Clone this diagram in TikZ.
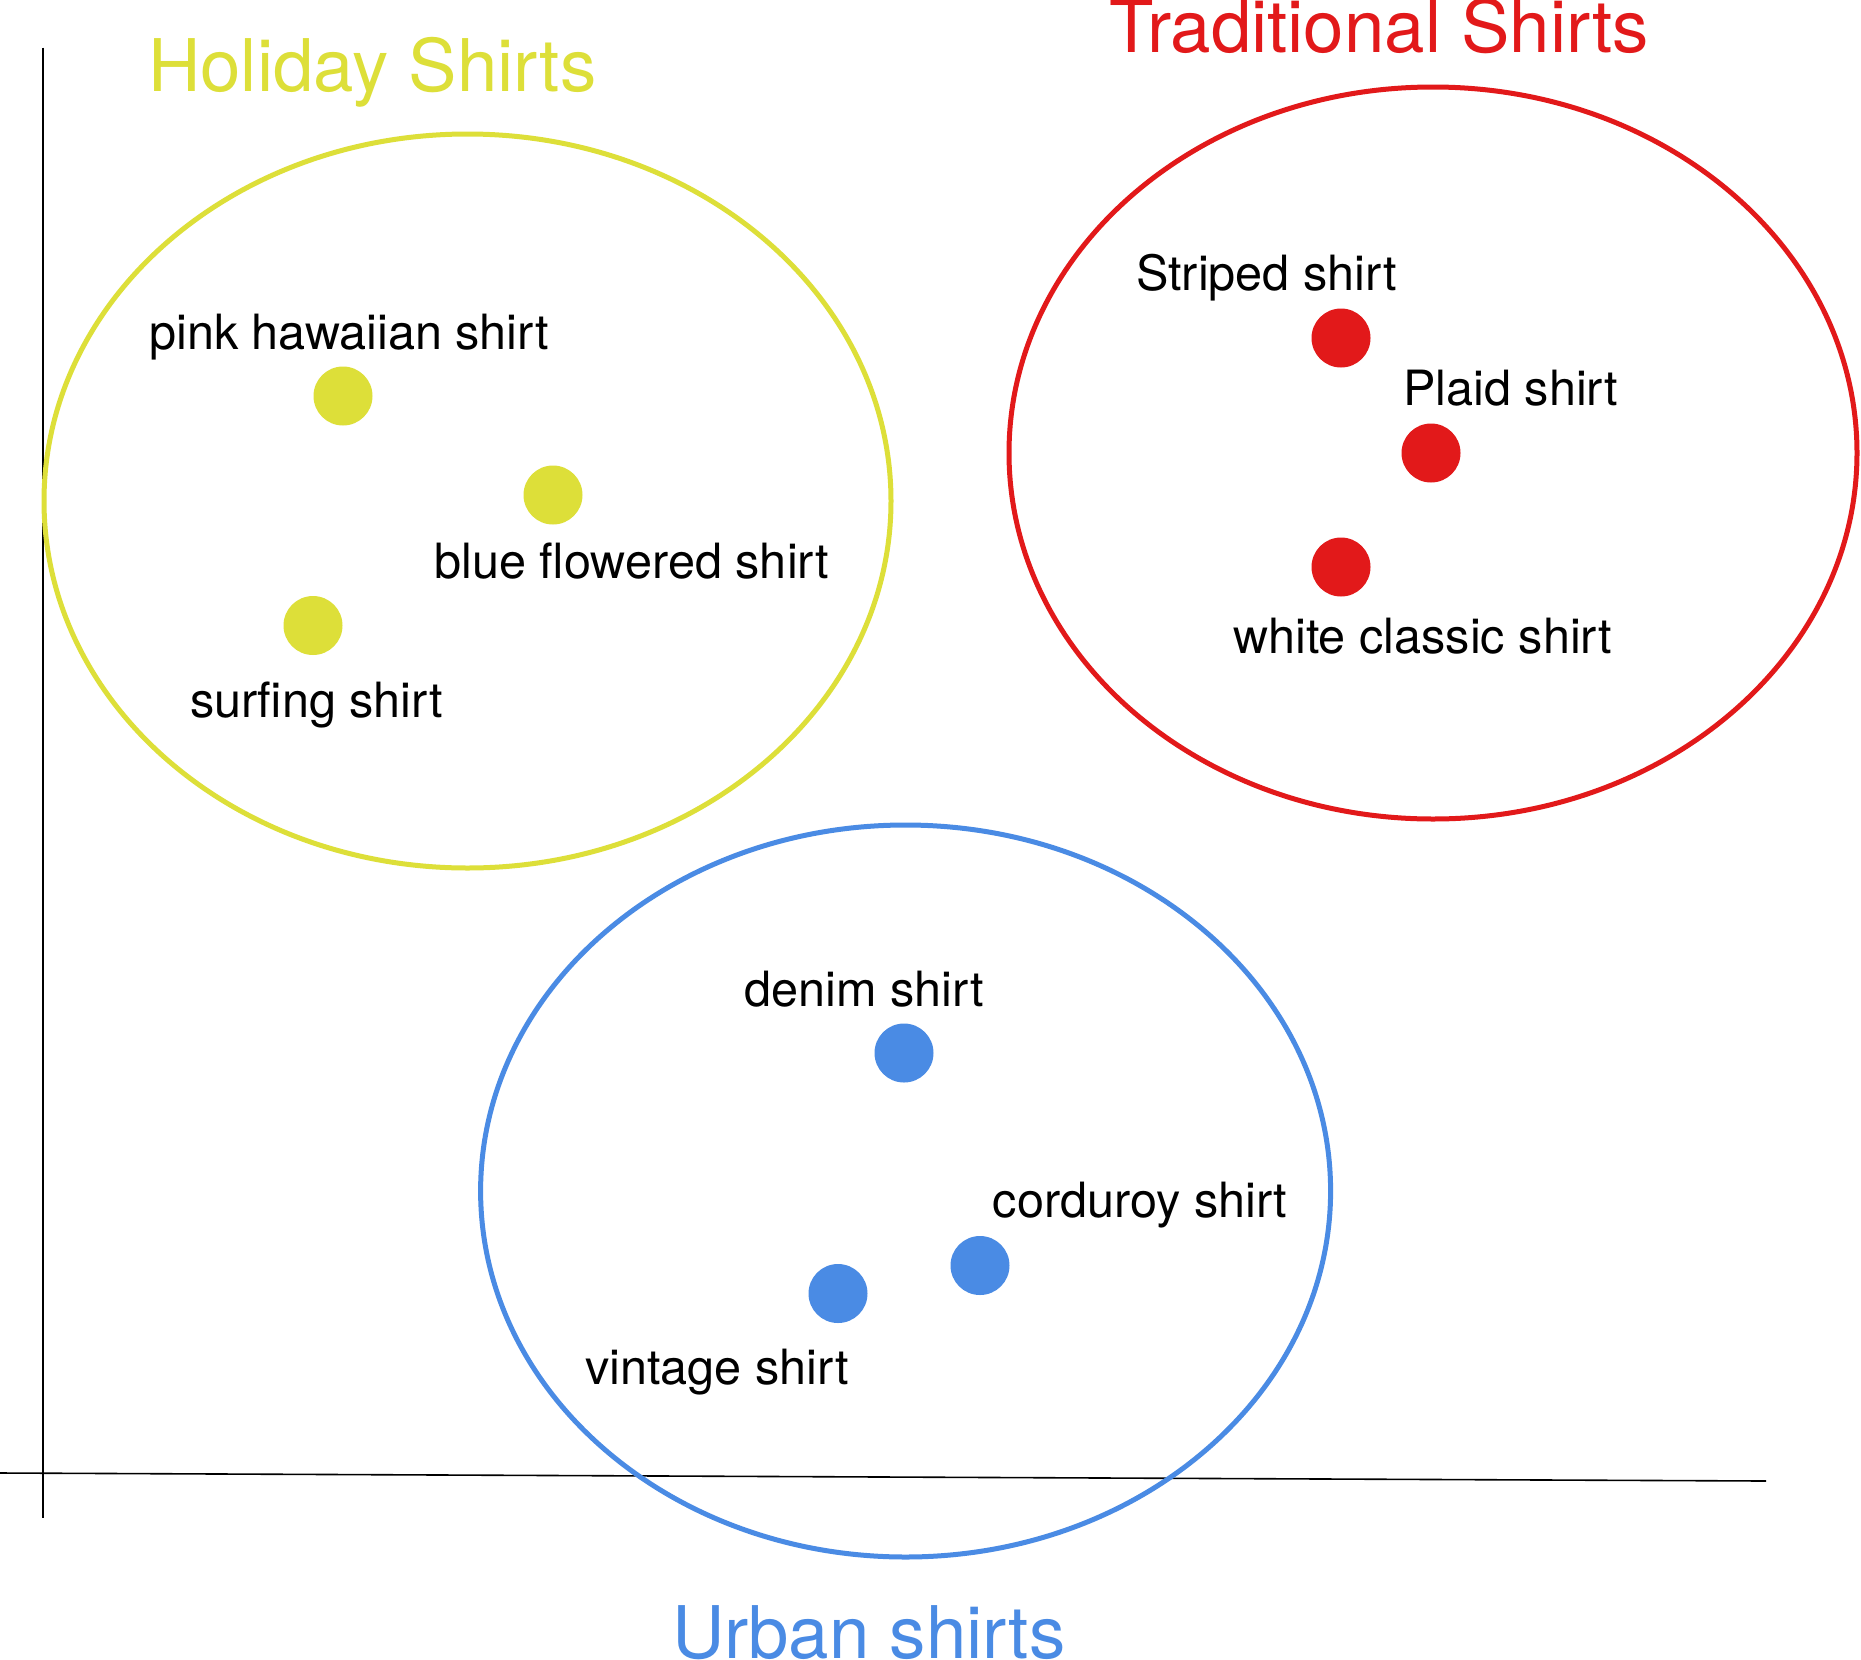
\documentclass[tikz,border=0pt]{standalone}
\usepackage{fontspec}
\setmainfont{TeX Gyre Heros}
\definecolor{hyel}{RGB}{221,223,57}
\definecolor{tred}{RGB}{226,25,26}
\definecolor{ublue}{RGB}{74,139,228}
\tikzset{
  dotbase/.style={circle,inner sep=0pt,minimum size=59pt,draw=none},
  ydot/.style={dotbase,fill=hyel},
  rdot/.style={dotbase,fill=tred},
  bdot/.style={dotbase,fill=ublue},
  lbl/.style={anchor=base west,inner sep=0pt,font=\fontsize{48.6}{56}\selectfont,text=black},
  ttl/.style={anchor=base west,inner sep=0pt,font=\fontsize{72.6}{84}\selectfont},
  grp/.style={line width=5pt},
  axis/.style={line width=1.6pt,black}
}
\begin{document}
\begin{tikzpicture}[x=1pt,y=-1pt]
\path[use as bounding box,fill=white] (0,0) rectangle (1861,1660);
% axes
\coordinate (ytop) at (42.7,47.5);
\coordinate (ybot) at (42.7,1518);
\coordinate (xl) at (0,1473);
\coordinate (xr) at (1766,1481);
\draw[axis] (ytop) -- (ybot);
\draw[axis] (xl) -- (xr);
% group ellipses
\coordinate (hc) at (467.5,501);
\coordinate (tc) at (1433,453);
\coordinate (uc) at (905.6,1191);
\draw[grp,hyel] (hc) ellipse [x radius=423.5,y radius=367];
\draw[grp,tred] (tc) ellipse [x radius=424,y radius=366];
\draw[grp,ublue] (uc) ellipse [x radius=425,y radius=366];
% titles
\node[ttl,text=hyel] (th) at (148,91) {Holiday Shirts};
\node[ttl,text=tred] (tt) at (1109,52.3) {Traditional Shirts};
\node[ttl,text=ublue] (tu) at (672,1658) {Urban shirts};
% holiday
\node[ydot] (d1) at (343,396) {};
\node[ydot] (d2) at (553,495) {};
\node[ydot] (d3) at (313,625.5) {};
\node[lbl] (l1) at (149,349) {pink hawaiian shirt};
\node[lbl] (l2) at (434.4,578) {blue flowered shirt};
\node[lbl] (l3) at (190,717) {surfing shirt};
% traditional
\node[rdot] (d4) at (1341,338) {};
\node[rdot] (d5) at (1431,453) {};
\node[rdot] (d6) at (1341,567) {};
\node[lbl] (l4) at (1136,290.5) {Striped shirt};
\node[lbl] (l5) at (1403,405.7) {Plaid shirt};
\node[lbl] (l6) at (1233,653) {white classic shirt};
% urban
\node[bdot] (d7) at (904,1053) {};
\node[bdot] (d8) at (980,1265.5) {};
\node[bdot] (d9) at (838,1293.5) {};
\node[lbl] (l7) at (744.5,1006) {denim shirt};
\node[lbl] (l8) at (992.5,1217.5) {corduroy shirt};
\node[lbl] (l9) at (585,1384) {vintage shirt};
\end{tikzpicture}
\end{document}
